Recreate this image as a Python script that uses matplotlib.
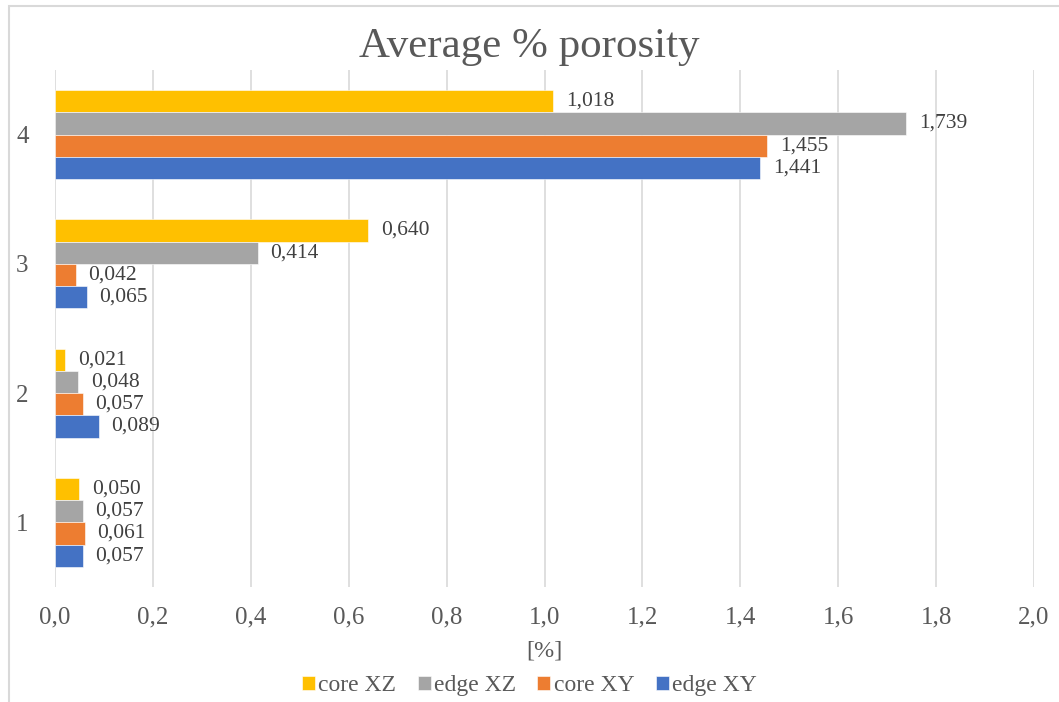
import numpy as np
import matplotlib
matplotlib.use("Agg")
import matplotlib.pyplot as plt
from matplotlib.patches import Rectangle

# Porosidade média por amostra e região
categories = ["1", "2", "3", "4"]
series = ["core XZ", "edge XZ", "core XY", "edge XY"]
core_xz = [0.050, 0.021, 0.640, 1.018]
edge_xz = [0.057, 0.048, 0.414, 1.739]
core_xy = [0.061, 0.057, 0.042, 1.455]
edge_xy = [0.057, 0.089, 0.065, 1.441]
colors = ["#FFC000", "#A5A5A5", "#ED7D31", "#4472C4"]
xticks = np.arange(0, 2.01, 0.2)

TXT = "#595959"
plt.rcParams["font.family"] = ["Liberation Serif", "DejaVu Serif"]

fig = plt.figure(figsize=(10.59, 7.02), dpi=100)
fig.patches.append(Rectangle((9 / 1059, -0.01), 1.1, (702 - 6) / 702 + 0.01,
                             transform=fig.transFigure, fill=False,
                             edgecolor="#d9d9d9", lw=1.5))
ax = fig.add_axes([55 / 1059, 115 / 702, 979 / 1059, 517 / 702])

y = np.arange(len(categories))
h = 0.172
for i, (name, vals, c) in enumerate(zip(series, [core_xz, edge_xz, core_xy, edge_xy], colors)):
    pos = y + (1.5 - i) * h
    ax.barh(pos, vals, height=h, color=c, label=name, edgecolor="white", lw=0.4)
    for p, v in zip(pos, vals):
        ax.annotate(f"{v:.3f}".replace(".", ","), (v, p), xytext=(9, 0),
                    textcoords="offset points", va="center", ha="left",
                    fontsize=15.5, color="#404040")

ax.set_xlim(0, 2.0)
ax.set_ylim(-0.5, 3.5)
ax.set_xticks(xticks)
ax.set_xticklabels([f"{t:.1f}".replace(".", ",") for t in xticks])
ax.set_yticks(y)
ax.set_yticklabels(categories)
ax.tick_params(length=0, labelsize=18, colors=TXT, pad=14)
ax.tick_params(axis="y", pad=19)
ax.grid(axis="x", color="#d9d9d9", lw=1.2)
ax.set_axisbelow(True)
for s in ax.spines.values():
    s.set_visible(False)

ax.set_xlabel("[%]", fontsize=17.5, color=TXT, labelpad=9)
fig.text(0.5, 0.933, "Average % porosity", ha="center", va="center",
         fontsize=31, color=TXT)
fig.legend(loc="lower center", bbox_to_anchor=(0.5, -0.022), ncol=4, frameon=False,
           fontsize=17, labelcolor=TXT, handlelength=0.55, handleheight=0.55,
           handletextpad=0.15, columnspacing=0.9)

fig.savefig("out.png", dpi=100)
